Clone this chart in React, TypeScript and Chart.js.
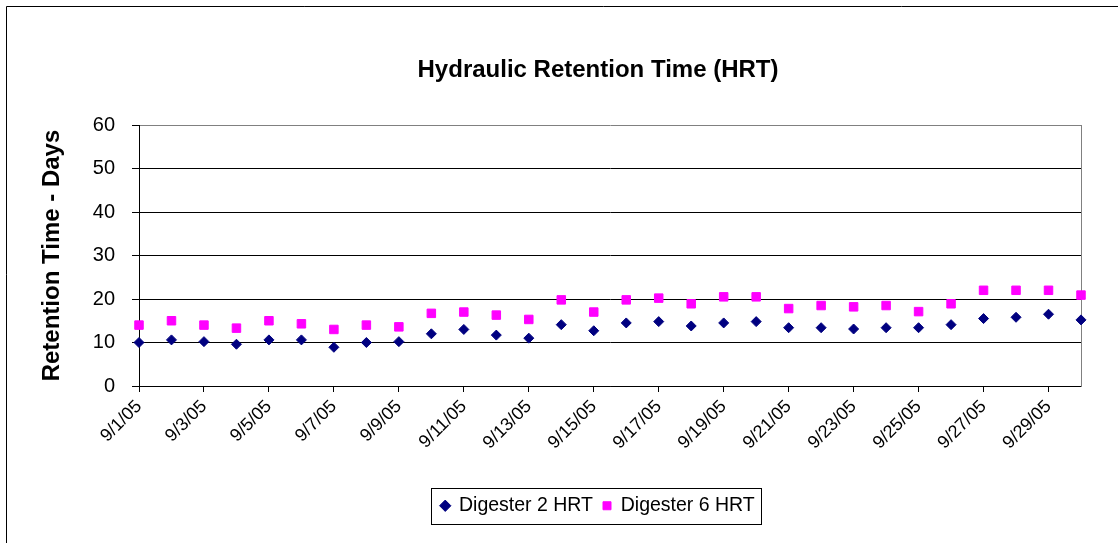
import React, { useEffect, useRef } from 'react';
import { Chart, registerables } from 'chart.js';

Chart.register(...registerables);

const dates = [
  '9/1/05', '9/2/05', '9/3/05', '9/4/05', '9/5/05', '9/6/05', '9/7/05', '9/8/05', '9/9/05', '9/10/05',
  '9/11/05', '9/12/05', '9/13/05', '9/14/05', '9/15/05', '9/16/05', '9/17/05', '9/18/05', '9/19/05', '9/20/05',
  '9/21/05', '9/22/05', '9/23/05', '9/24/05', '9/25/05', '9/26/05', '9/27/05', '9/28/05', '9/29/05', '9/30/05',
];

const digester2 = [
  10.0, 10.6, 10.2, 9.6, 10.6, 10.6, 8.9, 10.0, 10.2, 12.0,
  13.0, 11.7, 11.0, 14.1, 12.7, 14.5, 14.8, 13.8, 14.5, 14.8,
  13.4, 13.4, 13.1, 13.4, 13.4, 14.1, 15.5, 15.8, 16.5, 15.2,
];

const digester6 = [
  14.0, 15.0, 14.0, 13.3, 15.0, 14.3, 13.0, 14.0, 13.6, 16.7,
  17.0, 16.3, 15.3, 19.8, 17.0, 19.8, 20.2, 18.9, 20.5, 20.5,
  17.8, 18.5, 18.2, 18.5, 17.1, 18.9, 22.0, 22.0, 22.0, 20.9,
];

const seriesNames = ['Digester 2 HRT', 'Digester 6 HRT'];
const yMin = 0;
const yMax = 60;
const yStep = 10;
const labelEvery = 2;

const FONT = "'Liberation Sans', Arial, sans-serif";

const framePlugin = {
  id: 'frame',
  beforeDraw(chart: any) {
    const ctx = chart.ctx;
    ctx.save();
    ctx.strokeStyle = '#000000';
    ctx.lineWidth = 1;
    ctx.beginPath();
    ctx.moveTo(6.5, chart.height);
    ctx.lineTo(6.5, 6.5);
    ctx.lineTo(chart.width, 6.5);
    ctx.stroke();
    ctx.restore();
  },
  afterDraw(chart: any) {
    const legend = chart.legend;
    if (!legend || !legend.legendHitBoxes || !legend.legendHitBoxes.length) return;
    const boxes = legend.legendHitBoxes;
    let l = Infinity, r = -Infinity, t = Infinity, b = -Infinity;
    boxes.forEach((h: any) => {
      l = Math.min(l, h.left);
      r = Math.max(r, h.left + h.width);
      t = Math.min(t, h.top);
      b = Math.max(b, h.top + h.height);
    });
    const ctx = chart.ctx;
    ctx.save();
    ctx.strokeStyle = '#000000';
    ctx.lineWidth = 1;
    ctx.strokeRect(Math.round(l - 10) + 0.5, Math.round(t - 8) + 0.5, Math.round(r - l + 16), Math.round(b - t + 16));
    ctx.restore();
  },
};

export default function App() {
  const canvasRef = useRef<HTMLCanvasElement | null>(null);

  useEffect(() => {
    if (!canvasRef.current) return;
    const tickValues = dates.map((_, i) => i).filter((i) => i % labelEvery === 0);
    const chart = new Chart(canvasRef.current, {
      type: 'scatter',
      data: {
        datasets: [
          {
            label: seriesNames[0],
            data: digester2.map((v, i) => ({ x: i, y: v })),
            pointStyle: 'rectRot',
            pointRadius: 5,
            pointHoverRadius: 5,
            backgroundColor: '#000080',
            borderColor: '#000080',
            borderWidth: 1,
            showLine: false,
            clip: false,
          },
          {
            label: seriesNames[1],
            data: digester6.map((v, i) => ({ x: i, y: v })),
            pointStyle: 'rect',
            pointRadius: 6,
            pointHoverRadius: 6,
            backgroundColor: '#FF00FF',
            borderColor: '#FF00FF',
            borderWidth: 1,
            showLine: false,
            clip: false,
          },
        ],
      },
      options: {
        responsive: false,
        animation: false,
        events: [],
        layout: { padding: { left: 0, right: 4, top: 0, bottom: 17.5 } },
        plugins: {
          title: {
            display: true,
            text: 'Hydraulic Retention Time (HRT)',
            color: '#000000',
            font: { family: FONT, size: 24, weight: 'bold' },
            padding: { top: 56, bottom: 40.2 },
          },
          legend: {
            display: true,
            position: 'bottom',
            labels: {
              color: '#000000',
              font: { family: FONT, size: 19.5 },
              usePointStyle: true,
              boxWidth: 8,
              boxHeight: 8,
              padding: 10,
            },
          },
          tooltip: { enabled: false },
        },
        scales: {
          x: {
            type: 'linear',
            min: 0,
            max: dates.length - 1,
            afterBuildTicks: (scale: any) => {
              scale.ticks = tickValues.map((v) => ({ value: v }));
            },
            afterFit: (scale: any) => {
              scale.height = 100;
            },
            ticks: {
              autoSkip: false,
              minRotation: 45,
              maxRotation: 45,
              color: '#000000',
              font: { family: FONT, size: 18 },
              padding: 4,
              callback: (value: any) => dates[value] ?? '',
            },
            grid: {
              drawOnChartArea: false,
              drawTicks: true,
              tickLength: 6,
              color: '#000000',
              tickColor: '#000000',
            },
            border: { display: true, color: '#000000', width: 1 },
          },
          y: {
            type: 'linear',
            position: 'left',
            min: yMin,
            max: yMax,
            afterFit: (scale: any) => {
              scale.width = 139;
            },
            ticks: {
              stepSize: yStep,
              color: '#000000',
              font: { family: FONT, size: 20 },
              padding: 17,
            },
            grid: {
              color: (c: any) => (c.tick && c.tick.value === yMax ? '#808080' : '#000000'),
              tickColor: '#000000',
              tickLength: 7,
              lineWidth: 1,
            },
            border: { display: true, color: '#000000', width: 1 },
            title: {
              display: true,
              text: 'Retention Time - Days',
              color: '#000000',
              font: { family: FONT, size: 24, weight: 'bold' },
              padding: { top: 38, bottom: 0 },
            },
          },
          yRight: {
            type: 'linear',
            position: 'right',
            min: 0,
            max: 1,
            afterFit: (scale: any) => {
              scale.width = 115;
            },
            ticks: { display: false },
            grid: { display: false, drawTicks: false },
            border: { display: true, color: '#808080', width: 1 },
          },
        },
      } as any,
      plugins: [framePlugin],
    });
    return () => chart.destroy();
  }, []);

  return (
    <div style={{ position: 'absolute', left: 0, top: 0, width: 1118, height: 543, overflow: 'hidden', background: '#ffffff' }}>
      <canvas ref={canvasRef} width={1200} height={543} style={{ display: 'block' }} />
    </div>
  );
}
